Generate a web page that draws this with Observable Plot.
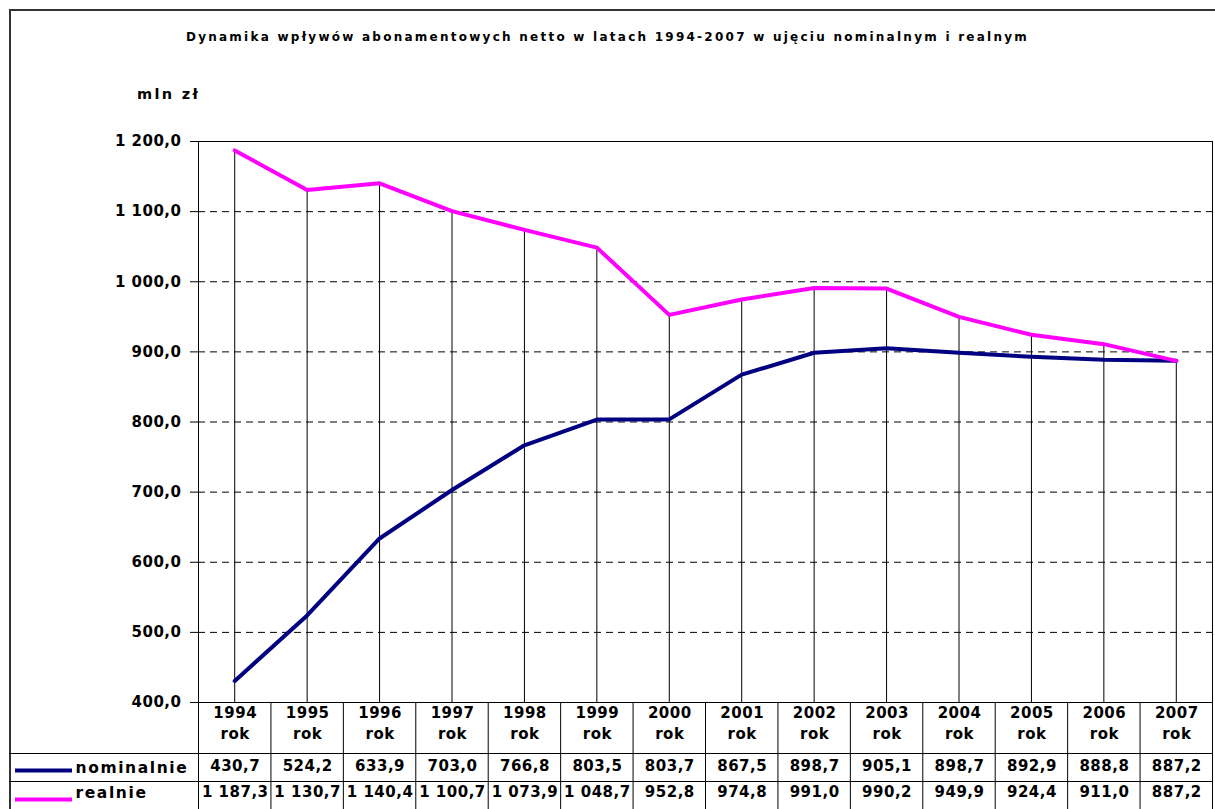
<!DOCTYPE html>
<html>
<head>
<meta charset="utf-8">
<script src="https://cdn.jsdelivr.net/npm/d3@7"></script>
<script src="https://cdn.jsdelivr.net/npm/@observablehq/plot@0.6"></script>
<style>
  body { margin: 0; background: #fff; }
  #wrap { position: relative; width: 1215px; height: 809px; overflow: hidden; font-family: "DejaVu Sans", "Liberation Sans", Arial, sans-serif; font-weight: bold; color: #000; }
  #border { position: absolute; left: 9px; top: 9px; width: 1210px; height: 830px; border: 2px solid #333; box-sizing: border-box; }
  #title { position: absolute; left: 0; top: 30px; width: 1215px; text-align: center; font-size: 12px; line-height: 14px; letter-spacing: 2.25px; white-space: nowrap; }
  #unit { position: absolute; left: 137px; top: 86px; font-size: 14.5px; line-height: 16px; letter-spacing: 2.3px; white-space: nowrap; }
  #chart { position: absolute; left: 0; top: 0; }
</style>
</head>
<body>
<div id="wrap">
  <div id="border"></div>
  <div id="title">Dynamika wpływów abonamentowych netto w latach 1994-2007 w ujęciu nominalnym i realnym</div>
  <div id="unit">mln zł</div>
  <div id="chart"></div>
</div>
<script>
const years = [1994, 1995, 1996, 1997, 1998, 1999, 2000, 2001, 2002, 2003, 2004, 2005, 2006, 2007];
const nominal = [430.7, 524.2, 633.9, 703.0, 766.8, 803.5, 803.7, 867.5, 898.7, 905.1, 898.7, 892.9, 888.8, 887.2];
const real = [1187.3, 1130.7, 1140.4, 1100.7, 1073.9, 1048.7, 952.8, 974.8, 991.0, 990.2, 949.9, 924.4, 911.0, 887.2];
const yTicks = [400, 500, 600, 700, 800, 900, 1000, 1100, 1200];
const gridValues = [500, 600, 700, 800, 900, 1000, 1100];
const seriesNames = ["nominalnie", "realnie"];
const seriesColors = ["#000080", "#ff00ff"];
const yearSuffix = "rok";

const data = years.map((y, i) => ({year: y, nominal: nominal[i], real: real[i]}));
const fmt = d3.formatLocale({decimal: ",", thousands: " ", grouping: [3], currency: ["", ""]}).format(",.1f");
const bounds = [years[0] - 0.5, ...years.map(y => y + 0.5)];

const chart = Plot.plot({
  width: 1215,
  height: 809,
  marginLeft: 198,
  marginRight: 3,
  marginTop: 141,
  marginBottom: 107,
  x: {domain: [bounds[0], bounds[bounds.length - 1]], axis: null},
  y: {domain: [400, 1200], axis: null},
  style: {fontFamily: '"DejaVu Sans", "Liberation Sans", Arial, sans-serif', fontWeight: "bold", fontSize: "15px", color: "#000", background: "transparent", letterSpacing: "0.5px", overflow: "visible"},
  marks: [
    Plot.ruleY(gridValues, {stroke: "#000", strokeWidth: 1, strokeDasharray: "7,5"}),
    Plot.ruleY([1200], {stroke: "#000", strokeWidth: 1}),
    Plot.ruleY([400], {stroke: "#000", strokeWidth: 1, insetLeft: -8}),
    Plot.ruleY([400], {stroke: "#000", strokeWidth: 1, dy: 51, insetLeft: -189}),
    Plot.ruleY([400], {stroke: "#000", strokeWidth: 1, dy: 79, insetLeft: -189}),
    Plot.ruleX([bounds[0], bounds[bounds.length - 1]], {stroke: "#000", strokeWidth: 1, insetBottom: -107}),
    Plot.ruleX(bounds.slice(1, -1), {stroke: "#000", strokeWidth: 1, insetTop: 561, insetBottom: -107}),
    Plot.ruleX(data, {x: "year", y1: 400, y2: "real", stroke: "#000", strokeWidth: 1}),
    Plot.axisY(yTicks, {tickSize: 8, tickPadding: 9, tickFormat: fmt, stroke: "#000", fontSize: 15, fontWeight: "bold", label: null}),
    Plot.line(data, {x: "year", y: "nominal", stroke: seriesColors[0], strokeWidth: 4}),
    Plot.line(data, {x: "year", y: "real", stroke: seriesColors[1], strokeWidth: 4}),
    Plot.text(data, {x: "year", text: d => String(d.year), frameAnchor: "bottom", dy: 15, dx: 0.5, fontSize: 15}),
    Plot.text(data, {x: "year", text: () => yearSuffix, frameAnchor: "bottom", dy: 36, dx: 0.5, fontSize: 15}),
    Plot.text(data, {x: "year", text: d => fmt(d.nominal), frameAnchor: "bottom", dy: 68.5, dx: 0.5, fontSize: 15}),
    Plot.text(data, {x: "year", text: d => fmt(d.real), frameAnchor: "bottom", dy: 94, dx: 0.5, fontSize: 15}),
    Plot.ruleY([400], {stroke: seriesColors[0], strokeWidth: 4, dy: 68, insetLeft: -183, insetRight: 1140}),
    Plot.ruleY([400], {stroke: seriesColors[1], strokeWidth: 4, dy: 97, insetLeft: -183, insetRight: 1140}),
    Plot.text([seriesNames[0]], {frameAnchor: "bottom-left", textAnchor: "start", dx: -123, dy: 70, fontSize: 15.5}),
    Plot.text([seriesNames[1]], {frameAnchor: "bottom-left", textAnchor: "start", dx: -123, dy: 95, fontSize: 15.5})
  ]
});
chart.querySelectorAll("text").forEach(t => {
  const s = t.textContent;
  if (s === seriesNames[0] || s === seriesNames[1]) t.style.letterSpacing = "1.6px";
});
document.getElementById("chart").appendChild(chart);
</script>
</body>
</html>
